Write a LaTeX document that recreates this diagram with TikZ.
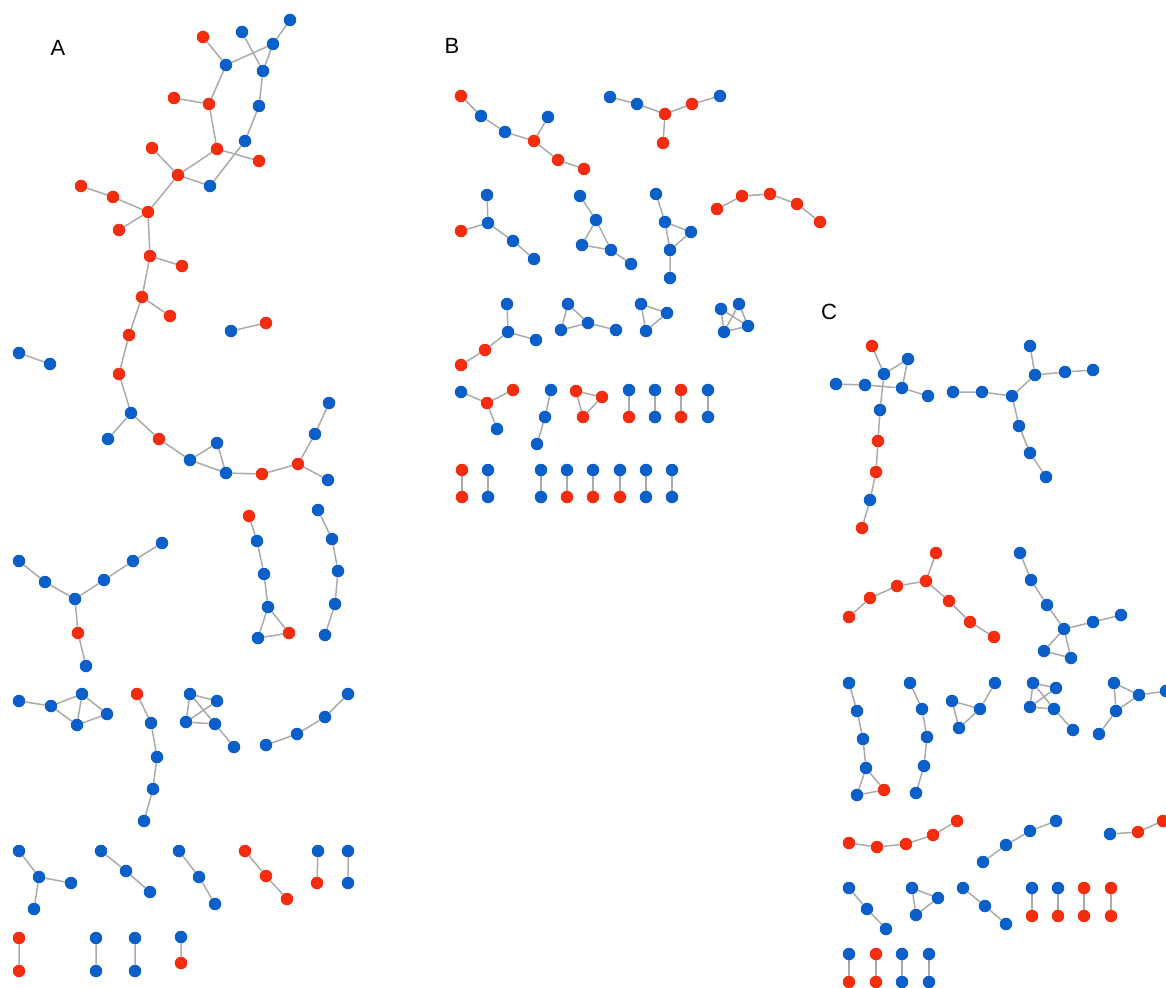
\documentclass[tikz,border=0pt]{standalone}
\usepackage{fontspec}
\setmainfont{Liberation Sans}
\definecolor{nred}{RGB}{245,45,15}
\definecolor{nblue}{RGB}{10,95,200}
\definecolor{egray}{RGB}{170,170,170}
\pgfdeclarelayer{bg}
\pgfsetlayers{bg,main}
\tikzset{
  nd/.style={circle,inner sep=0pt,minimum size=12.5pt,draw=none},
  bn/.style={nd,fill=nblue},
  rn/.style={nd,fill=nred},
  ed/.style={draw=egray,line width=1.5pt},
  lab/.style={font=\fontsize{22}{24}\selectfont,text=black,inner sep=0pt}
}
\begin{document}
\begin{tikzpicture}[x=1pt,y=-1pt]
\useasboundingbox (0,0) rectangle (1166,987);
% ---------- labels
\node[lab] (LA) at (58,48) {A};
\node[lab] (LB) at (452,46) {B};
\node[lab] (LC) at (829,312) {C};
% ================= PANEL A =================
\node[rn] (a1) at (203,37) {};
\node[bn] (a2) at (242,32) {};
\node[bn] (a3) at (290,20) {};
\node[bn] (a4) at (273,44) {};
\node[bn] (a5) at (226,65) {};
\node[bn] (a6) at (263,71) {};
\node[rn] (a7) at (174,98) {};
\node[rn] (a8) at (209,104) {};
\node[bn] (a9) at (259,106) {};
\node[rn] (a10) at (152,148) {};
\node[rn] (a11) at (217,149) {};
\node[bn] (a12) at (245,141) {};
\node[rn] (a13) at (259,161) {};
\node[rn] (a14) at (178,175) {};
\node[bn] (a15) at (210,186) {};
\node[rn] (a16) at (81,186) {};
\node[rn] (a17) at (113,197) {};
\node[rn] (a18) at (148,212) {};
\node[rn] (a19) at (119,230) {};
\node[rn] (a20) at (150,256) {};
\node[rn] (a21) at (182,266) {};
\node[rn] (a22) at (142,297) {};
\node[rn] (a23) at (170,316) {};
\node[rn] (a24) at (129,335) {};
\node[rn] (a25) at (119,374) {};
\node[bn] (a26) at (131,413) {};
\node[bn] (a27) at (108,439) {};
\node[rn] (a28) at (159,439) {};
\node[bn] (a29) at (190,460) {};
\node[bn] (a30) at (217,443) {};
\node[bn] (a31) at (226,473) {};
\node[rn] (a32) at (262,474) {};
\node[rn] (a33) at (298,464) {};
\node[bn] (a34) at (315,434) {};
\node[bn] (a35) at (329,403) {};
\node[bn] (a36) at (328,480) {};
\node[bn] (pa1) at (231,331) {};
\node[rn] (pa2) at (266,323) {};
\node[bn] (pb1) at (19,353) {};
\node[bn] (pb2) at (50,364) {};
\node[rn] (b1) at (249,516) {};
\node[bn] (b2) at (257,541) {};
\node[bn] (b3) at (264,574) {};
\node[bn] (b4) at (268,607) {};
\node[bn] (b5) at (258,638) {};
\node[rn] (b6) at (289,633) {};
\node[bn] (c1) at (318,510) {};
\node[bn] (c2) at (332,539) {};
\node[bn] (c3) at (338,571) {};
\node[bn] (c4) at (335,604) {};
\node[bn] (c5) at (325,635) {};
\node[bn] (y1) at (19,561) {};
\node[bn] (y2) at (45,582) {};
\node[bn] (y3) at (75,599) {};
\node[bn] (y4) at (104,580) {};
\node[bn] (y5) at (133,561) {};
\node[bn] (y6) at (162,543) {};
\node[rn] (y7) at (78,633) {};
\node[bn] (y8) at (86,666) {};
\node[bn] (d1) at (19,701) {};
\node[bn] (d2) at (51,706) {};
\node[bn] (d3) at (82,694) {};
\node[bn] (d4) at (77,725) {};
\node[bn] (d5) at (107,714) {};
\node[rn] (e1) at (137,694) {};
\node[bn] (e2) at (151,723) {};
\node[bn] (e3) at (157,757) {};
\node[bn] (e4) at (153,789) {};
\node[bn] (e5) at (144,821) {};
\node[bn] (f1) at (190,694) {};
\node[bn] (f2) at (217,701) {};
\node[bn] (f3) at (186,722) {};
\node[bn] (f4) at (215,724) {};
\node[bn] (f5) at (234,747) {};
\node[bn] (g1) at (266,745) {};
\node[bn] (g2) at (297,734) {};
\node[bn] (g3) at (325,717) {};
\node[bn] (g4) at (348,694) {};
\node[bn] (h1) at (19,851) {};
\node[bn] (h2) at (39,877) {};
\node[bn] (h3) at (71,883) {};
\node[bn] (h4) at (34,909) {};
\node[bn] (i1) at (101,851) {};
\node[bn] (i2) at (126,871) {};
\node[bn] (i3) at (150,892) {};
\node[bn] (j1) at (179,851) {};
\node[bn] (j2) at (199,877) {};
\node[bn] (j3) at (215,904) {};
\node[rn] (k1) at (245,851) {};
\node[rn] (k2) at (266,876) {};
\node[rn] (k3) at (287,899) {};
\node[bn] (m1) at (318,851) {};
\node[rn] (m2) at (317,883) {};
\node[bn] (n1) at (348,851) {};
\node[bn] (n2) at (348,883) {};
\node[rn] (o1) at (19,938) {};
\node[rn] (o2) at (19,971) {};
\node[bn] (o3) at (96,938) {};
\node[bn] (o4) at (96,971) {};
\node[bn] (o5) at (135,938) {};
\node[bn] (o6) at (135,971) {};
\node[bn] (o7) at (181,937) {};
\node[rn] (o8) at (181,963) {};
% ================= PANEL B =================
\node[rn] (B11) at (461,96) {};
\node[bn] (B12) at (481,116) {};
\node[bn] (B13) at (505,132) {};
\node[rn] (B14) at (534,141) {};
\node[bn] (B15) at (548,117) {};
\node[rn] (B16) at (558,160) {};
\node[rn] (B17) at (584,169) {};
\node[bn] (B21) at (610,97) {};
\node[bn] (B22) at (637,104) {};
\node[rn] (B23) at (665,114) {};
\node[rn] (B24) at (692,104) {};
\node[bn] (B25) at (720,96) {};
\node[rn] (B26) at (663,143) {};
\node[bn] (B31) at (487,195) {};
\node[bn] (B32) at (488,223) {};
\node[rn] (B33) at (461,231) {};
\node[bn] (B34) at (513,241) {};
\node[bn] (B35) at (534,259) {};
\node[bn] (B41) at (580,196) {};
\node[bn] (B42) at (596,220) {};
\node[bn] (B43) at (582,245) {};
\node[bn] (B44) at (611,250) {};
\node[bn] (B45) at (631,264) {};
\node[bn] (B51) at (656,194) {};
\node[bn] (B52) at (665,222) {};
\node[bn] (B53) at (691,232) {};
\node[bn] (B54) at (670,250) {};
\node[bn] (B55) at (670,278) {};
\node[rn] (B61) at (717,209) {};
\node[rn] (B62) at (742,196) {};
\node[rn] (B63) at (770,194) {};
\node[rn] (B64) at (797,204) {};
\node[rn] (B65) at (820,222) {};
\node[bn] (B71) at (507,304) {};
\node[bn] (B72) at (508,332) {};
\node[bn] (B73) at (536,340) {};
\node[rn] (B74) at (485,350) {};
\node[rn] (B75) at (461,365) {};
\node[bn] (B81) at (568,304) {};
\node[bn] (B82) at (561,330) {};
\node[bn] (B83) at (588,323) {};
\node[bn] (B84) at (616,330) {};
\node[bn] (B91) at (641,304) {};
\node[bn] (B92) at (667,313) {};
\node[bn] (B93) at (646,331) {};
\node[bn] (BA1) at (721,309) {};
\node[bn] (BA2) at (739,304) {};
\node[bn] (BA3) at (724,332) {};
\node[bn] (BA4) at (748,326) {};
\node[bn] (BB1) at (461,392) {};
\node[rn] (BB2) at (487,403) {};
\node[rn] (BB3) at (513,390) {};
\node[bn] (BB4) at (497,429) {};
\node[bn] (BC1) at (551,390) {};
\node[bn] (BC2) at (545,417) {};
\node[bn] (BC3) at (537,444) {};
\node[rn] (BD1) at (576,391) {};
\node[rn] (BD2) at (602,397) {};
\node[rn] (BD3) at (583,417) {};
\node[bn] (BP1) at (629,390) {};
\node[rn] (BP2) at (629,417) {};
\node[bn] (BP3) at (655,390) {};
\node[bn] (BP4) at (655,417) {};
\node[rn] (BP5) at (681,390) {};
\node[rn] (BP6) at (681,417) {};
\node[bn] (BP7) at (708,390) {};
\node[bn] (BP8) at (708,417) {};
\node[rn] (BQ1) at (462,470) {};
\node[rn] (BQ2) at (462,497) {};
\node[bn] (BQ3) at (488,470) {};
\node[bn] (BQ4) at (488,497) {};
\node[bn] (BQ5) at (541,470) {};
\node[bn] (BQ6) at (541,497) {};
\node[bn] (BQ7) at (567,470) {};
\node[rn] (BQ8) at (567,497) {};
\node[bn] (BQ9) at (593,470) {};
\node[rn] (BQ10) at (593,497) {};
\node[bn] (BQ11) at (620,470) {};
\node[rn] (BQ12) at (620,497) {};
\node[bn] (BQ13) at (646,470) {};
\node[bn] (BQ14) at (646,497) {};
\node[bn] (BQ15) at (672,470) {};
\node[bn] (BQ16) at (672,497) {};
% ================= PANEL C =================
\node[rn] (p1) at (872,346) {};
\node[bn] (p2) at (908,359) {};
\node[bn] (p3) at (884,374) {};
\node[bn] (p4) at (836,384) {};
\node[bn] (p5) at (865,385) {};
\node[bn] (p6) at (902,388) {};
\node[bn] (p7) at (928,396) {};
\node[bn] (p8) at (880,410) {};
\node[rn] (p9) at (878,441) {};
\node[rn] (p10) at (876,472) {};
\node[bn] (p11) at (870,500) {};
\node[rn] (p12) at (862,528) {};
\node[bn] (q1) at (953,392) {};
\node[bn] (q2) at (982,392) {};
\node[bn] (q3) at (1012,396) {};
\node[bn] (q4) at (1035,375) {};
\node[bn] (q5) at (1030,346) {};
\node[bn] (q6) at (1065,372) {};
\node[bn] (q7) at (1093,370) {};
\node[bn] (q8) at (1019,426) {};
\node[bn] (q9) at (1030,453) {};
\node[bn] (q10) at (1046,477) {};
\node[rn] (r1) at (936,553) {};
\node[rn] (r2) at (926,581) {};
\node[rn] (r3) at (897,586) {};
\node[rn] (r4) at (870,598) {};
\node[rn] (r5) at (849,617) {};
\node[rn] (r6) at (949,601) {};
\node[rn] (r7) at (970,622) {};
\node[rn] (r8) at (994,637) {};
\node[bn] (s1) at (1020,553) {};
\node[bn] (s2) at (1031,580) {};
\node[bn] (s3) at (1047,605) {};
\node[bn] (s4) at (1064,629) {};
\node[bn] (s5) at (1093,622) {};
\node[bn] (s6) at (1121,615) {};
\node[bn] (s7) at (1044,651) {};
\node[bn] (s8) at (1071,658) {};
\node[bn] (t1) at (849,683) {};
\node[bn] (t2) at (857,711) {};
\node[bn] (t3) at (863,739) {};
\node[bn] (t4) at (866,768) {};
\node[bn] (t5) at (857,795) {};
\node[rn] (t6) at (884,790) {};
\node[bn] (x1) at (910,683) {};
\node[bn] (x2) at (922,709) {};
\node[bn] (x3) at (927,737) {};
\node[bn] (x4) at (924,766) {};
\node[bn] (x5) at (916,793) {};
\node[bn] (u1) at (995,683) {};
\node[bn] (u2) at (980,709) {};
\node[bn] (u3) at (952,701) {};
\node[bn] (u4) at (959,728) {};
\node[bn] (v1) at (1033,683) {};
\node[bn] (v2) at (1056,688) {};
\node[bn] (v3) at (1030,707) {};
\node[bn] (v4) at (1054,709) {};
\node[bn] (v5) at (1073,730) {};
\node[bn] (w1) at (1114,683) {};
\node[bn] (w2) at (1139,695) {};
\node[bn] (w3) at (1116,711) {};
\node[bn] (w4) at (1099,734) {};
\node[bn] (w5) at (1166,691) {};
\node[rn] (z1) at (849,843) {};
\node[rn] (z2) at (877,847) {};
\node[rn] (z3) at (906,844) {};
\node[rn] (z4) at (933,835) {};
\node[rn] (z5) at (957,821) {};
\node[bn] (zb1) at (983,862) {};
\node[bn] (zb2) at (1006,845) {};
\node[bn] (zb3) at (1030,831) {};
\node[bn] (zb4) at (1056,821) {};
\node[bn] (zc1) at (1110,834) {};
\node[rn] (zc2) at (1138,832) {};
\node[rn] (zc3) at (1163,821) {};
\node[bn] (zd1) at (849,888) {};
\node[bn] (zd2) at (867,909) {};
\node[bn] (zd3) at (886,929) {};
\node[bn] (ze1) at (912,888) {};
\node[bn] (ze2) at (938,898) {};
\node[bn] (ze3) at (916,915) {};
\node[bn] (zf1) at (963,888) {};
\node[bn] (zf2) at (985,906) {};
\node[bn] (zf3) at (1006,924) {};
\node[bn] (CP1) at (1032,888) {};
\node[rn] (CP2) at (1032,916) {};
\node[bn] (CP3) at (1058,888) {};
\node[rn] (CP4) at (1058,916) {};
\node[rn] (CP5) at (1084,888) {};
\node[rn] (CP6) at (1084,916) {};
\node[rn] (CP7) at (1111,888) {};
\node[rn] (CP8) at (1111,916) {};
\node[bn] (CQ1) at (849,954) {};
\node[rn] (CQ2) at (849,982) {};
\node[rn] (CQ3) at (876,954) {};
\node[rn] (CQ4) at (876,982) {};
\node[bn] (CQ5) at (902,954) {};
\node[bn] (CQ6) at (902,982) {};
\node[bn] (CQ7) at (929,954) {};
\node[bn] (CQ8) at (929,982) {};
% ================= EDGES =================
\begin{pgfonlayer}{bg}
% A
\draw[ed] (a1)--(a5)--(a4)--(a3) (a2)--(a6) (a4)--(a6)--(a9)--(a12)--(a15);
\draw[ed] (a5)--(a8)--(a11)--(a13) (a7)--(a8) (a11)--(a14) (a10)--(a14)--(a15);
\draw[ed] (a14)--(a18) (a16)--(a17)--(a18)--(a19) (a18)--(a20)--(a21) (a20)--(a22)--(a23);
\draw[ed] (a22)--(a24)--(a25)--(a26)--(a27) (a26)--(a28)--(a29)--(a30)--(a31)--(a29);
\draw[ed] (a31)--(a32)--(a33)--(a34)--(a35) (a33)--(a36);
\draw[ed] (pa1)--(pa2) (pb1)--(pb2);
\draw[ed] (b1)--(b2)--(b3)--(b4)--(b5)--(b6)--(b4);
\draw[ed] (c1)--(c2)--(c3)--(c4)--(c5);
\draw[ed] (y1)--(y2)--(y3)--(y4)--(y5)--(y6) (y3)--(y7)--(y8);
\draw[ed] (d1)--(d2)--(d3)--(d4)--(d2) (d3)--(d5)--(d4);
\draw[ed] (e1)--(e2)--(e3)--(e4)--(e5);
\draw[ed] (f1)--(f2) (f1)--(f3) (f1)--(f4) (f3)--(f2) (f3)--(f4)--(f5);
\draw[ed] (g1)--(g2)--(g3)--(g4);
\draw[ed] (h1)--(h2)--(h3) (h2)--(h4);
\draw[ed] (i1)--(i2)--(i3) (j1)--(j2)--(j3) (k1)--(k2)--(k3);
\draw[ed] (m1)--(m2) (n1)--(n2) (o1)--(o2) (o3)--(o4) (o5)--(o6) (o7)--(o8);
% B
\draw[ed] (B11)--(B12)--(B13)--(B14)--(B16)--(B17) (B15)--(B14);
\draw[ed] (B21)--(B22)--(B23)--(B24)--(B25) (B23)--(B26);
\draw[ed] (B31)--(B32)--(B33) (B32)--(B34)--(B35);
\draw[ed] (B41)--(B42)--(B43)--(B44)--(B42) (B44)--(B45);
\draw[ed] (B51)--(B52)--(B53)--(B54)--(B52) (B54)--(B55);
\draw[ed] (B61)--(B62)--(B63)--(B64)--(B65);
\draw[ed] (B71)--(B72)--(B73) (B72)--(B74)--(B75);
\draw[ed] (B81)--(B82)--(B83)--(B81) (B83)--(B84);
\draw[ed] (B91)--(B92)--(B93)--(B91);
\draw[ed] (BA1)--(BA3) (BA1)--(BA4) (BA2)--(BA3) (BA2)--(BA4) (BA3)--(BA4);
\draw[ed] (BB1)--(BB2)--(BB3) (BB2)--(BB4);
\draw[ed] (BC1)--(BC2)--(BC3) (BD1)--(BD2)--(BD3)--(BD1);
\draw[ed] (BP1)--(BP2) (BP3)--(BP4) (BP5)--(BP6) (BP7)--(BP8);
\draw[ed] (BQ1)--(BQ2) (BQ3)--(BQ4) (BQ5)--(BQ6) (BQ7)--(BQ8) (BQ9)--(BQ10) (BQ11)--(BQ12) (BQ13)--(BQ14) (BQ15)--(BQ16);
% C
\draw[ed] (p1)--(p3)--(p2)--(p6)--(p7) (p4)--(p5)--(p6) (p3)--(p8)--(p9)--(p10)--(p11)--(p12);
\draw[ed] (q1)--(q2)--(q3)--(q4)--(q5) (q4)--(q6)--(q7) (q3)--(q8)--(q9)--(q10);
\draw[ed] (r1)--(r2)--(r3)--(r4)--(r5) (r2)--(r6)--(r7)--(r8);
\draw[ed] (s1)--(s2)--(s3)--(s4)--(s5)--(s6) (s4)--(s7)--(s8)--(s4);
\draw[ed] (t1)--(t2)--(t3)--(t4)--(t5)--(t6)--(t4);
\draw[ed] (x1)--(x2)--(x3)--(x4)--(x5);
\draw[ed] (u1)--(u2)--(u3)--(u4)--(u2);
\draw[ed] (v1)--(v2) (v1)--(v3) (v1)--(v4) (v3)--(v2) (v3)--(v4)--(v5);
\draw[ed] (w1)--(w2)--(w3)--(w1) (w3)--(w4) (w2)--(w5);
\draw[ed] (z1)--(z2)--(z3)--(z4)--(z5);
\draw[ed] (zb1)--(zb2)--(zb3)--(zb4);
\draw[ed] (zc1)--(zc2)--(zc3);
\draw[ed] (zd1)--(zd2)--(zd3) (ze1)--(ze2)--(ze3)--(ze1) (zf1)--(zf2)--(zf3);
\draw[ed] (CP1)--(CP2) (CP3)--(CP4) (CP5)--(CP6) (CP7)--(CP8);
\draw[ed] (CQ1)--(CQ2) (CQ3)--(CQ4) (CQ5)--(CQ6) (CQ7)--(CQ8);
\end{pgfonlayer}
\end{tikzpicture}
\end{document}
